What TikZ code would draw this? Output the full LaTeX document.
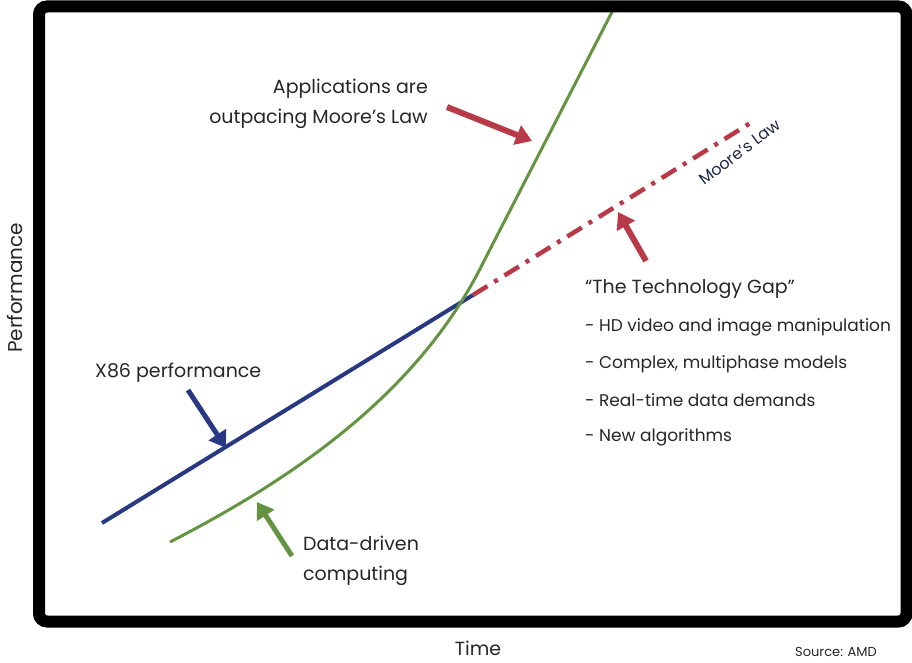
\documentclass[tikz,border=0pt]{standalone}
\usepackage{fontspec}
\setmainfont{Poppins}
\usetikzlibrary{arrows.meta}

\definecolor{gapred}{RGB}{184,58,72}
\definecolor{xblue}{RGB}{40,56,130}
\definecolor{datagreen}{RGB}{100,148,66}
\definecolor{txtgray}{RGB}{38,38,38}

\tikzset{
    lbl/.style={text=txtgray, inner sep=0pt, font=\fontsize{19}{30}\selectfont},
    gaplbl/.style={text=txtgray, inner sep=0pt, anchor=west, font=\fontsize{17}{20}\selectfont},
    pointer/.style={line width=#1, -{Triangle[length=16pt, width=20pt]}},
    pointer/.default=6pt
}

\begin{document}
\begin{tikzpicture}[x=1pt, y=-1pt]
    \useasboundingbox (0,0) rectangle (912,663);

    % Curve end points
    \coordinate (xstart) at (102,523);
    \coordinate (cross) at (473,295);
    \coordinate (mlend) at (752,122);
    \coordinate (dstart) at (170,542);
    \coordinate (dbend) at (483,263);
    \coordinate (dtop) at (613,10);

    % X86 performance
    \draw [xblue, line width=4pt] (xstart) -- (cross);

    % Moore's Law
    \draw [gapred, line width=4.5pt, dash pattern=on 17pt off 8pt on 4pt off 8pt] (cross) -- (mlend);
    \node (moore) [rotate=37, inner sep=0pt, text={rgb,255:red,30;green,36;blue,70},
        font=\fontsize{16}{18}\selectfont] at (740,152) {Moore's Law};

    % Data-driven computing
    \draw [datagreen, line width=3pt] (dstart) .. controls (300,475) and (420,390) .. (dbend) -- (dtop);

    % Labels
    \node (apps) [lbl, align=right, anchor=east] at (428,104) {Applications are\\outpacing Moore's Law};
    \node (x86) [lbl, anchor=west] at (95,373) {X86 performance};
    \node (data) [lbl, align=left, anchor=west] at (303,561) {Data-driven\\computing};

    % Technology gap
    \node (gap) [gaplbl, font=\fontsize{19}{22}\selectfont] at (585,289) {``The Technology Gap''};
    \node (hd) [gaplbl] at (585,327) {- HD video and image manipulation};
    \node (complex) [gaplbl] at (585,364) {- Complex, multiphase models};
    \node (realtime) [gaplbl] at (585,400) {- Real-time data demands};
    \node (algo) [gaplbl] at (585,437) {- New algorithms};

    % Pointers
    \coordinate (appstail) at (447,107);
    \coordinate (appstip) at (532,141);
    \coordinate (gaptail) at (646,261);
    \coordinate (gaptip) at (618,212);
    \coordinate (x86tail) at (188,390);
    \coordinate (x86tip) at (226,448);
    \coordinate (datatail) at (292,556);
    \coordinate (datatip) at (257,502);
    \draw [gapred, pointer] (appstail) -- (appstip);
    \draw [gapred, pointer] (gaptail) -- (gaptip);
    \draw [xblue, pointer=5pt] (x86tail) -- (x86tip);
    \draw [datagreen, pointer=5pt] (datatail) -- (datatip);

    % Frame
    \draw [line width=12pt, rounded corners=8pt] (39,6.5) rectangle (906.5,621.5);

    % Axes
    \node (perf) [lbl, rotate=90, font=\fontsize{20}{22}\selectfont] at (15,288) {Performance};
    \node (time) [lbl, font=\fontsize{19}{22}\selectfont] at (478,648) {Time};
    \node (source) [lbl, font=\fontsize{13}{14}\selectfont] at (836,652) {Source: AMD};
\end{tikzpicture}
\end{document}
